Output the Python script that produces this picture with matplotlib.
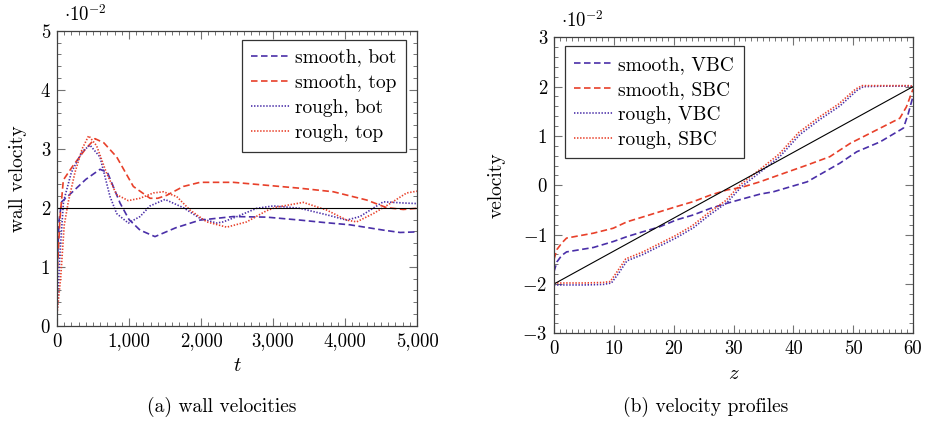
import numpy as np
import matplotlib
matplotlib.use("Agg")
import matplotlib.pyplot as plt
from matplotlib.ticker import MultipleLocator

plt.rcParams['font.family'] = 'serif'
plt.rcParams['font.serif'] = ['cmr10', 'DejaVu Serif']
plt.rcParams['mathtext.fontset'] = 'cm'
plt.rcParams['axes.formatter.use_mathtext'] = True
plt.rcParams['lines.scale_dashes'] = False

BLUE = '#4a2fa8'
RED = '#e8402a'

# ---- (a) wall velocities, values in units of 1e-2 ----
t_sb = [0, 30, 65, 200, 400, 597, 700, 875, 1000, 1153, 1361, 1650, 1986, 2449, 2912, 3375, 3700, 4069, 4532, 4764, 5000]
v_sb = [0.9, 1.8, 2.1, 2.25, 2.48, 2.65, 2.6, 2.08, 1.8, 1.62, 1.51, 1.66, 1.79, 1.85, 1.84, 1.79, 1.75, 1.71, 1.62, 1.58, 1.59]

t_st = [0, 40, 88, 227, 400, 528, 650, 829, 1060, 1292, 1400, 1524, 1755, 1986, 2449, 2912, 3375, 3838, 4301, 4579, 4810, 5000]
v_st = [0.8, 1.8, 2.47, 2.72, 3.0, 3.17, 3.1, 2.86, 2.36, 2.16, 2.16, 2.21, 2.36, 2.43, 2.43, 2.38, 2.33, 2.27, 2.13, 2.0, 1.97, 1.99]

t_rb = [0, 40, 90, 200, 350, 458, 597, 736, 829, 990, 1153, 1292, 1500, 1755, 1986, 2218, 2310, 2500, 2774, 3005, 3375, 3745, 4023, 4208, 4532, 4810, 5000]
v_rb = [0.2, 1.2, 2.1, 2.6, 2.95, 3.06, 2.86, 2.19, 1.9, 1.74, 1.85, 2.03, 2.14, 2.0, 1.82, 1.74, 1.76, 1.85, 1.99, 2.03, 1.99, 1.88, 1.79, 1.85, 2.1, 2.08, 2.07]

t_rt = [0, 50, 100, 157, 250, 350, 440, 550, 690, 829, 990, 1153, 1338, 1477, 1662, 1847, 2079, 2357, 2635, 2912, 3051, 3421, 3745, 4023, 4162, 4393, 4625, 4856, 5000]
v_rt = [0.2, 0.8, 1.7, 2.1, 2.6, 3.0, 3.22, 3.05, 2.58, 2.22, 2.12, 2.16, 2.25, 2.27, 2.19, 1.96, 1.76, 1.67, 1.76, 1.95, 2.01, 2.09, 1.96, 1.79, 1.76, 1.9, 2.07, 2.25, 2.28]

t_ref = [0, 5000]
v_ref = [2, 2]

# ---- (b) velocity profiles, values in units of 1e-2 ----
z_sv = [0, 0.5, 1.3, 2.1, 6.6, 9.9, 12.2, 14.9, 17.7, 20.5, 23.3, 26.1, 28.9, 31.4, 34.4, 36.7, 42.3, 47.8, 50.6, 54.5, 58.4, 59.2, 60]
u_sv = [-1.75, -1.55, -1.42, -1.35, -1.26, -1.14, -1.04, -0.94, -0.84, -0.70, -0.60, -0.47, -0.365, -0.28, -0.18, -0.13, 0.07, 0.45, 0.68, 0.88, 1.16, 1.45, 1.8]

z_ss = [0, 0.5, 1.3, 2.1, 6.6, 9.9, 12.2, 14.9, 17.7, 20.5, 23.3, 26.1, 28.9, 31.4, 34.4, 36.7, 42.3, 46.1, 49.5, 53.4, 57.8, 58.9, 60]
u_ss = [-1.5, -1.3, -1.17, -1.07, -0.97, -0.87, -0.74, -0.64, -0.535, -0.43, -0.33, -0.2, -0.095, -0.04, 0.07, 0.17, 0.41, 0.58, 0.85, 1.09, 1.36, 1.59, 1.95]

z_rv = [0, 2, 5, 8.2, 9.6, 10.7, 12.2, 14.9, 17.7, 20.5, 23.3, 26.1, 28.9, 31.4, 34.4, 37.8, 41.1, 44.5, 47.8, 50.6, 51.7, 55, 59.5, 60]
u_rv = [-2.02, -2.02, -2.02, -2.01, -1.98, -1.8, -1.53, -1.4, -1.23, -1.06, -0.86, -0.59, -0.35, -0.02, 0.26, 0.59, 1.03, 1.34, 1.61, 1.92, 2.0, 2.01, 2.01, 2.0]

z_rs = [0, 2, 5, 8.2, 9.4, 10.5, 12.0, 14.7, 17.5, 20.3, 23.1, 25.9, 28.7, 31.2, 34.2, 37.6, 40.9, 44.3, 47.6, 50.4, 51.5, 55, 59.5, 60]
u_rs = [-1.98, -1.98, -1.98, -1.97, -1.95, -1.76, -1.49, -1.36, -1.19, -1.02, -0.82, -0.55, -0.31, 0.02, 0.3, 0.63, 1.07, 1.38, 1.65, 1.95, 2.02, 2.02, 2.02, 2.0]

z_ref = [0, 60]
u_ref = [-2, 2]

DASH = (0, (4.7, 2.5))
DOT = (0, (1.0, 1.2))
FS = 14

fig = plt.figure(figsize=(9.25, 4.26), dpi=100)
ax1 = fig.add_axes([57 / 925, 100.3 / 426, 360 / 925, 295 / 426])
ax2 = fig.add_axes([554 / 925, 92.7 / 426, 359 / 925, 296 / 426])


def style(ax):
    ax.tick_params(which='both', direction='in', top=True, right=True,
                   color='0.45', labelsize=13.5, pad=5)
    ax.tick_params(which='major', length=5.5, width=0.8)
    ax.tick_params(which='minor', length=3, width=0.7)
    for s in ax.spines.values():
        s.set_linewidth(0.9)
        s.set_color('0.25')


def legend(ax, loc, anchor):
    leg = ax.legend(loc=loc, bbox_to_anchor=anchor, fontsize=FS,
                    handlelength=2.0, handletextpad=0.25, borderpad=0.5,
                    labelspacing=0.36, fancybox=False, framealpha=1,
                    edgecolor='0.2', borderaxespad=0)
    leg.get_frame().set_linewidth(0.9)


# left panel
ax1.plot(t_sb, v_sb, color=BLUE, ls=DASH, lw=1.2, label='smooth, bot')
ax1.plot(t_st, v_st, color=RED, ls=DASH, lw=1.2, label='smooth, top')
ax1.plot(t_rb, v_rb, color=BLUE, ls=DOT, lw=1.2, label='rough, bot')
ax1.plot(t_rt, v_rt, color=RED, ls=DOT, lw=1.2, label='rough, top')
ax1.plot(t_ref, v_ref, color='k', lw=0.8)
ax1.set_xlim(0, 5000)
ax1.set_ylim(0, 5)
ax1.set_xticks([0, 1000, 2000, 3000, 4000, 5000])
ax1.set_xticklabels(['0', '1,000', '2,000', '3,000', '4,000', '5,000'])
ax1.set_yticks([0, 1, 2, 3, 4, 5])
ax1.set_yticklabels(['0', '1', '2', '3', '4', '5'])
ax1.xaxis.set_minor_locator(MultipleLocator(100))
ax1.yaxis.set_minor_locator(MultipleLocator(0.2))
style(ax1)
ax1.set_xlabel(r'$t$', fontsize=FS + 1, labelpad=5)
ax1.set_ylabel('wall velocity', fontsize=FS, labelpad=10)
ax1.text(0.02, 1.02, r'$\cdot 10^{-2}$', transform=ax1.transAxes, fontsize=13.5, va='bottom')
legend(ax1, 'upper right', (0.97, 0.97))

# right panel
ax2.plot(z_sv, u_sv, color=BLUE, ls=DASH, lw=1.2, label='smooth, VBC')
ax2.plot(z_ss, u_ss, color=RED, ls=DASH, lw=1.2, label='smooth, SBC')
ax2.plot(z_rv, u_rv, color=BLUE, ls=DOT, lw=1.2, label='rough, VBC')
ax2.plot(z_rs, u_rs, color=RED, ls=DOT, lw=1.2, label='rough, SBC')
ax2.plot(z_ref, u_ref, color='k', lw=0.8)
ax2.set_xlim(0, 60)
ax2.set_ylim(-3, 3)
ax2.set_xticks([0, 10, 20, 30, 40, 50, 60])
ax2.set_xticklabels(['0', '10', '20', '30', '40', '50', '60'])
ax2.set_yticks([-3, -2, -1, 0, 1, 2, 3])
ax2.set_yticklabels([r'$-3$', r'$-2$', r'$-1$', '0', '1', '2', '3'])
ax2.xaxis.set_minor_locator(MultipleLocator(1))
ax2.yaxis.set_minor_locator(MultipleLocator(0.2))
style(ax2)
ax2.set_xlabel(r'$z$', fontsize=FS + 1, labelpad=5)
ax2.set_ylabel('velocity', fontsize=FS, labelpad=12)
ax2.text(0.02, 1.02, r'$\cdot 10^{-2}$', transform=ax2.transAxes, fontsize=13.5, va='bottom')
legend(ax2, 'upper left', (0.03, 0.97))

# sub-captions
fig.text(222 / 925, 1 - 407 / 426, '(a) wall velocities', ha='center', va='center', fontsize=FS)
fig.text(706 / 925, 1 - 407 / 426, '(b) velocity profiles', ha='center', va='center', fontsize=FS)

fig.savefig('out.png', dpi=100)
